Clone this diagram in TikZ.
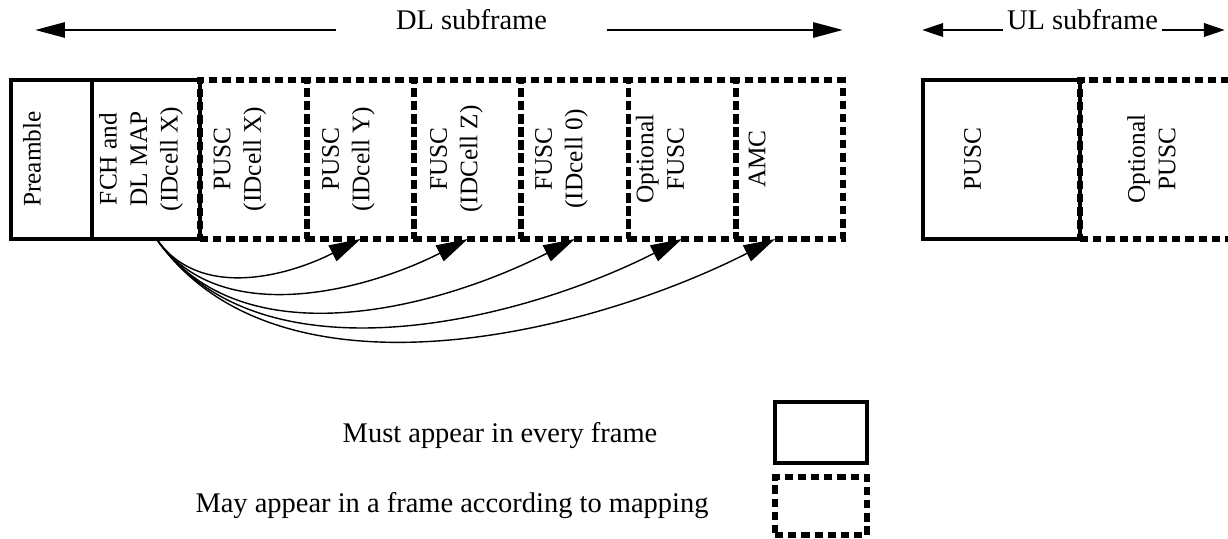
\documentclass[tikz,border=0pt]{standalone}
\usepackage{fontspec}
\setmainfont{Liberation Serif}
\usetikzlibrary{arrows.meta,positioning}

\begin{document}
\begin{tikzpicture}[
        x=0.02cm, y=0.02cm,
        every node/.style={inner sep=0pt, outer sep=0pt},
        must/.style={draw, line width=1.9pt, minimum height=3.18cm},
        may/.style={draw, line width=3.3pt, dash pattern=on 4.7pt off 2.8pt, minimum height=3.18cm, minimum width=2.143cm},
        slot/.style={rotate=90, align=center, font=\fontsize{14.4}{17.4}\selectfont},
        sublabel/.style={font=\fontsize{16.2}{19}\selectfont, anchor=base},
        keytext/.style={font=\fontsize{16.2}{19}\selectfont, anchor=base},
        span/.style={-{Triangle[length=17pt, width=8.5pt]}, line width=1.7pt},
        mapping/.style={-{Triangle[length=18pt, width=10pt]}, line width=0.8pt}
    ]
    \clip (0,0) rectangle (1228,538);
    % DL subframe
    \node[must, minimum width=1.62cm, anchor=south west] (pre) at (11,299) {};
    \node[must, minimum width=2.16cm, right=0pt of pre] (fch) {};
    \node[may, right=0pt of fch] (puscx) {};
    \node[may, right=0pt of puscx] (puscy) {};
    \node[may, right=0pt of puscy] (fuscz) {};
    \node[may, right=0pt of fuscz] (fusc0) {};
    \node[may, right=0pt of fusc0] (optfusc) {};
    \node[may, right=0pt of optfusc] (amc) {};

    \node[slot] (pretext) at (32,379) {Preamble};
    \node[slot] (fchtext) at (141,379) {FCH and\\DL MAP\\(IDcell X)};
    \node[slot] (puscxtext) at (240,379) {PUSC\\(IDcell X)};
    \node[slot] (puscytext) at (348.5,379) {PUSC\\(IDcell Y)};
    \node[slot] (fuscztext) at (456.5,379) {FUSC\\(IDCell Z)};
    \node[slot] (fusc0text) at (561.5,379) {FUSC\\(IDcell 0)};
    \node[slot] (optfusctext) at (660,379) {Optional\\FUSC};
    \node[slot] (amctext) at (757,379) {AMC};

    % UL subframe
    \node[must, minimum width=3.14cm, anchor=south west] (ulpusc) at (923,299) {};
    \node[may, minimum width=3.2cm, right=0pt of ulpusc] (uloptpusc) {};
    \node[slot] (ulpusctext) at (972.5,379) {PUSC};
    \node[slot] (uloptpusctext) at (1151.5,379) {Optional\\PUSC};

    % spans
    \node[sublabel, inner xsep=34pt] (dl) at (471.5,508) {DL subframe};
    \coordinate (dlstart) at (35,508);
    \coordinate (dlend) at (843,508);
    \draw[span] (dl.base west) -- (dlstart);
    \draw[span] (dl.base east) -- (dlend);
    \node[sublabel, inner xsep=2.5pt] (ul) at (1082.5,508) {UL subframe};
    \coordinate (ulstart) at (922,508);
    \coordinate (ulend) at (1225,508);
    \draw[span, -{Triangle[length=12pt, width=7.5pt]}] (ul.base west) -- (ulstart);
    \draw[span, -{Triangle[length=12pt, width=7.5pt]}] (ul.base east) -- (ulend);

    % DL MAP pointers
    \coordinate (fchout) at ([xshift=6pt]fch.south);
    \coordinate (amcin) at ([xshift=-8pt]amc.south);
    \foreach \dest/\loose in {puscy.south/0.97, fuscz.south/0.92, fusc0.south/0.92, optfusc.south/0.88, amcin/0.87}
        \draw[mapping] (fchout) to[out=-55, in=-153, looseness=\loose] (\dest);

    % legend
    \node[must, minimum width=1.84cm, minimum height=1.22cm, anchor=south west] (mustkey) at (775,75) {};
    \node[may, minimum width=1.84cm, minimum height=1.16cm, anchor=south west] (maykey) at (775,3) {};
    \node[keytext] (musttext) at (500,95) {Must appear in every frame};
    \node[keytext] (maytext) at (452,26) {May appear in a frame according to mapping};
\end{tikzpicture}
\end{document}
